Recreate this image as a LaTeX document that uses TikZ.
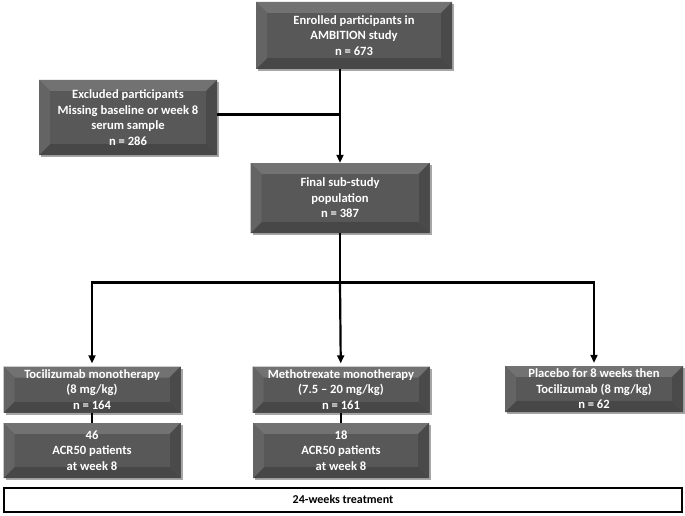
\documentclass[tikz,border=0pt]{standalone}
\usepackage{fontspec}
\setmainfont{Carlito}
\usepackage{tikz}
\usetikzlibrary{arrows.meta,positioning,calc,shadows}
\definecolor{boxgray}{HTML}{585858}
\definecolor{bevtop}{HTML}{727272}
\definecolor{bevbot}{HTML}{474747}
\definecolor{bevside}{HTML}{646464}

\begin{document}
\begin{tikzpicture}[
    x=1pt,y=-1pt,
    bevel/.style={rectangle,fill=boxgray,text=white,align=center,inner sep=2pt,
      font=\bfseries\fontsize{12.6}{15.5}\selectfont,
      drop shadow={shadow xshift=2pt,shadow yshift=-2pt,fill=black,opacity=0.35},
      path picture={
        \fill[bevtop] (path picture bounding box.north west) -- (path picture bounding box.north east)
          -- ([xshift=-11pt,yshift=-11pt]path picture bounding box.north east)
          -- ([xshift=11pt,yshift=-11pt]path picture bounding box.north west) -- cycle;
        \fill[bevbot] (path picture bounding box.south west) -- (path picture bounding box.south east)
          -- ([xshift=-11pt,yshift=11pt]path picture bounding box.south east)
          -- ([xshift=11pt,yshift=11pt]path picture bounding box.south west) -- cycle;
        \fill[bevside] (path picture bounding box.north west) -- ([xshift=11pt,yshift=-11pt]path picture bounding box.north west)
          -- ([xshift=11pt,yshift=11pt]path picture bounding box.south west) -- (path picture bounding box.south west) -- cycle;
        \fill[bevbot!80!boxgray] (path picture bounding box.north east) -- ([xshift=-11pt,yshift=-11pt]path picture bounding box.north east)
          -- ([xshift=-11pt,yshift=11pt]path picture bounding box.south east) -- (path picture bounding box.south east) -- cycle;
        \fill[boxgray] ([xshift=11pt,yshift=-11pt]path picture bounding box.north west)
          rectangle ([xshift=-11pt,yshift=11pt]path picture bounding box.south east);
      }},
    link/.style={line width=2.2pt},
    >={Triangle[length=8pt,width=7pt]}]
  \useasboundingbox (0,0) rectangle (685,516);
  \node[bevel,minimum width=196pt,minimum height=67pt] (enrol) at (354,35.5)
    {Enrolled participants in\\AMBITION study\\n = 673};
  \node[bevel,minimum width=178pt,minimum height=75pt] (excl) at (128,117.5)
    {Excluded participants\\Missing baseline or week 8\\serum sample\\n = 286};
  \node[bevel,minimum width=179pt,minimum height=70pt] (final) at (340,198)
    {Final sub-study\\population\\n = 387};
  % treatment arms
  \node[bevel,minimum width=177pt,minimum height=46pt] (toci) at (92,389.5)
    {Tocilizumab monotherapy\\(8 mg/kg)\\n = 164};
  \node[bevel,minimum width=177pt,minimum height=46pt] (mtx) at (341,389.5)
    {Methotrexate monotherapy\\(7.5 -- 20 mg/kg)\\n = 161};
  \node[bevel,minimum width=178pt,minimum height=46pt] (plac) at (594,389)
    {Placebo for 8 weeks then\\Tocilizumab (8 mg/kg)\\n = 62};
  \node[bevel,minimum width=177pt,minimum height=55pt] (tociacr) at (92,450.5)
    {46\\ACR50 patients\\at week 8};
  \node[bevel,minimum width=176pt,minimum height=55pt] (mtxacr) at (341,450.5)
    {18\\ACR50 patients\\at week 8};
  \node[draw,line width=2pt,minimum width=678pt,minimum height=24pt,
    font=\bfseries\fontsize{12}{14}\selectfont] (weeks) at (343,499.5) {24-weeks treatment};

  \draw[link,->] (enrol.south -| final) -- (final);
  \draw[link] ([yshift=3pt]excl.east) -- ([yshift=3pt]excl.east -| final);
  \coordinate (split) at (final.south |- 0,282.5);
  \draw[link] (final.south) -- (split);
  \draw[link,->,shorten >=3pt] (split) -| (toci);
  \draw[link,->,shorten >=3pt] (split) -| (plac);
  \draw[link,->,shorten >=3pt] (split) -- (mtx);
  \draw[link] (toci) -- (tociacr);
  \draw[link] (mtx) -- (mtxacr);
\end{tikzpicture}
\end{document}
